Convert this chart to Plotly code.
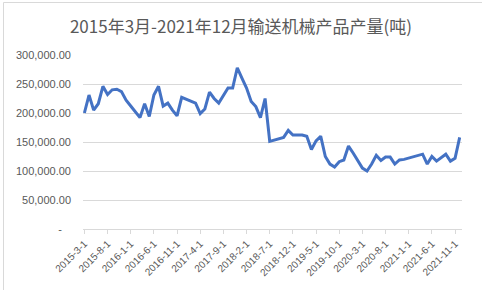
import plotly.graph_objects as go

# Monthly data 2015-03 .. 2021-12 (tonnes)
months = []
y, m = 2015, 3
while (y, m) <= (2021, 12):
    months.append(f"{y}-{m}-1")
    m += 1
    if m > 12:
        m = 1
        y += 1

values = [
    200000, 231000, 205000, 216000, 246000, 232000, 240000, 241000, 237000, 222000,
    212000, 202000, 192000, 216000, 194000, 231000, 246000, 212000, 217000, 205000,
    195000, 227000, 224000, 221000, 217000, 199000, 207000, 236000, 225000, 217000,
    231000, 243000, 243000, 278000, 260000, 243000, 220000, 211000, 192000, 225000,
    151000, 153000, 156000, 158000, 170000, 162000, 162000, 162000, 160000, 137000,
    152000, 160000, 125000, 112000, 107000, 116000, 119000, 143000, 131000, 117000,
    105000, 100000, 112000, 127000, 118000, 124000, 124000, 112000, 119000, 120000,
    122000, 124000, 126000, 129000, 112000, 125000, 117000, 123000, 129000, 117000,
    122000, 158000,
]

title_text = "2015年3月-2021年12月输送机械产品产量(吨)"
y_tickvals = [0, 50000, 100000, 150000, 200000, 250000, 300000]
y_ticktext = ["-\u00a0\u00a0\u00a0", "50,000.00", "100,000.00", "150,000.00",
              "200,000.00", "250,000.00", "300,000.00"]

idx = list(range(len(values)))
x_tickvals = idx[::5]
x_ticktext = [months[i] for i in x_tickvals]

W, H = 482, 290
L, R, T, B = 83, 20, 55, 61
pw, ph = W - L - R, H - T - B

def px_x(px):
    return (px - L) / pw

def px_y(py):
    return (H - B - py) / ph

fig = go.Figure()
fig.add_trace(go.Scatter(
    x=idx, y=values, mode="lines",
    line=dict(color="#4472C4", width=3),
    hoverinfo="skip",
))

grey = "#595959"
fig.update_layout(
    width=W, height=H,
    margin=dict(l=L, r=R, t=T, b=B, pad=0),
    paper_bgcolor="white", plot_bgcolor="white",
    showlegend=False,
    font=dict(family="Liberation Sans, Arial, sans-serif", color=grey, size=11),
    title=dict(
        text=title_text, x=0.5, xanchor="center", y=1 - 27 / H, yanchor="middle",
        font=dict(family="Noto Sans CJK SC, sans-serif", size=17, color=grey),
    ),
    xaxis=dict(
        range=[-0.3, 81.5],
        tickmode="array", tickvals=x_tickvals, ticktext=x_ticktext,
        tickangle=-45, tickfont=dict(size=10, color=grey),
        ticks="outside", ticklen=4, tickcolor="#d9d9d9",
        showline=True, linecolor="#d9d9d9", linewidth=1,
        showgrid=False, zeroline=False, fixedrange=True,
    ),
    yaxis=dict(
        range=[0, 300000],
        tickmode="array", tickvals=y_tickvals, ticktext=y_ticktext,
        tickfont=dict(size=11, color=grey),
        showgrid=True, gridcolor="#d9d9d9", gridwidth=1,
        showline=False, zeroline=False, ticks="",
        ticklabelstandoff=11, fixedrange=True,
    ),
    shapes=[
        dict(type="line", xref="paper", yref="paper",
             x0=px_x(3.5), x1=px_x(3.5), y0=px_y(2.5), y1=px_y(290),
             line=dict(color="#d9d9d9", width=1)),
        dict(type="line", xref="paper", yref="paper",
             x0=px_x(3.5), x1=px_x(482), y0=px_y(2.5), y1=px_y(2.5),
             line=dict(color="#d9d9d9", width=1)),
    ],
)

fig.write_html("out.html", config={"displayModeBar": False})
